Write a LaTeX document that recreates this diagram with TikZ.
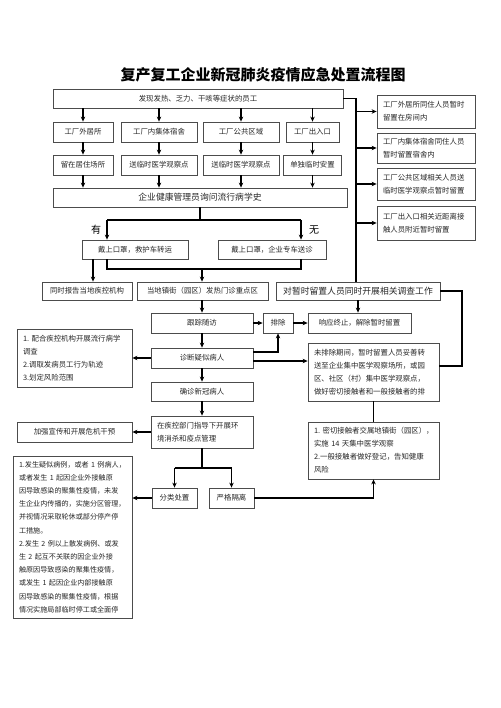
\documentclass[tikz,border=0pt]{standalone}
\usepackage{fontspec}
\setmainfont{Noto Sans CJK SC}
\usetikzlibrary{arrows.meta}

\begin{document}
\begin{tikzpicture}[x=1pt, y=-1pt, >={Stealth[length=5pt,width=4.5pt]},
    box/.style={draw=black!70, line width=0.8pt, text=black!85, inner sep=0pt, font=\fontsize{7.4}{13}\selectfont},
    tbox/.style={box, align=left, inner xsep=6pt},
    link/.style={line width=1.2pt}]

    \useasboundingbox (0,0) rectangle (500,708);

    \node [font=\fontsize{15}{15}\selectfont\bfseries] (t) at (263,75) {复产复工企业新冠肺炎疫情应急处置流程图};

    \node [box, minimum width=290, minimum height=19] (a) at (198,98.5) {发现发热、乏力、干咳等症状的员工};
    \node [box, minimum width=60, minimum height=20] (b1) at (83,132) {工厂外居所};
    \node [box, minimum width=76, minimum height=20] (b2) at (159,132) {工厂内集体宿舍};
    \node [box, minimum width=76, minimum height=20] (b3) at (241,132) {工厂公共区域};
    \node [box, minimum width=53, minimum height=20] (b4) at (312.5,132) {工厂出入口};
    \node [box, minimum width=60, minimum height=20] (c1) at (83,165) {留在居住场所};
    \node [box, minimum width=76, minimum height=20] (c2) at (159,165) {送临时医学观察点};
    \node [box, minimum width=76, minimum height=20] (c3) at (241,165) {送临时医学观察点};
    \node [box, minimum width=58, minimum height=20] (c4) at (312.5,165) {单独临时安置};
    \node [box, minimum width=294, minimum height=19, font=\fontsize{8.8}{10}\selectfont] (d) at (200,197.5) {企业健康管理员询问流行病学史};

    \node [tbox, text width=86, minimum height=33] (r1) at (426,111.5) {工厂外居所同住人员暂时\\留置在房间内};
    \node [tbox, text width=86, minimum height=30] (r2) at (426,148) {工厂内集体宿舍同住人员\\暂时留置宿舍内};
    \node [tbox, text width=86, minimum height=32] (r3) at (426,184) {工厂公共区域相关人员送\\临时医学观察点暂时留置};
    \node [tbox, text width=86, minimum height=34] (r4) at (426,223) {工厂出入口相关近距离接\\触人员附近暂时留置};

    \node [font=\fontsize{10}{10}\selectfont] (you) at (96,230) {有};
    \node [font=\fontsize{10}{10}\selectfont] (wu) at (314,230) {无};

    \node [box, minimum width=106, minimum height=19] (e1) at (135,249.5) {戴上口罩，救护车转运};
    \node [box, minimum width=108, minimum height=19] (e2) at (272,249.5) {戴上口罩，企业专车送诊};
    \node [box, minimum width=90, minimum height=18] (f1) at (87,291) {同时报告当地疾控机构};
    \node [box, minimum width=131, minimum height=18] (f2) at (202.5,291) {当地镇街（园区）发热门诊重点区};
    \node [box, minimum width=164, minimum height=18, font=\fontsize{8.8}{10}\selectfont] (f3) at (358,291) {对暂时留置人员同时开展相关调查工作};

    \node [box, minimum width=102, minimum height=20] (g1) at (202,323) {跟踪随访};
    \node [box, minimum width=30, minimum height=20] (g2) at (278,323) {排除};
    \node [box, minimum width=103, minimum height=20] (g3) at (359.5,323) {响应终止，解除暂时留置};

    \node [tbox, text width=103, minimum height=58] (h1) at (74.5,358) {1.~配合疾控机构开展流行病学\\调查\\2.调取发病员工行为轨迹\\3.划定风险范围};
    \node [box, minimum width=102, minimum height=20] (h2) at (202,358) {诊断疑似病人};
    \node [tbox, text width=119, minimum height=58] (h3) at (373.5,372) {未排除期间，暂时留置人员妥善转\\送至企业集中医学观察场所，或园\\区、社区（村）集中医学观察点，\\做好密切接触者和一般接触者的排};

    \node [box, minimum width=102, minimum height=19] (i) at (202,391.5) {确诊新冠病人};
    \node [box, minimum width=115, minimum height=20] (j1) at (74.5,432) {加强宣传和开展危机干预};
    \node [tbox, text width=90, minimum height=32] (j2) at (202,432) {在疾控部门指导下开展环\\境消杀和疫点管理};
    \node [tbox, text width=119, minimum height=57] (m) at (373.5,450.5) {1.~密切接触者交属地镇街（园区），\\实施~14~天集中医学观察\\2.一般接触者做好登记，告知健康\\风险};

    \node [tbox, text width=107, minimum height=162, font=\fontsize{7.1}{13.2}\selectfont] (k1) at (72.5,537) {1.发生疑似病例，或者~1~例病人，\\或者发生~1~起因企业外接触原\\因导致感染的聚集性疫情，未发\\生企业内传播的，实施分区管理，\\并视情况采取轮休或部分停产停\\工措施。\\2.发生~2~例以上散发病例、或发\\生~2~起互不关联的因企业外接\\触原因导致感染的聚集性疫情，\\或发生~1~起因企业内部接触原\\因导致感染的聚集性疫情，根据\\情况实施局部临时停工或全面停};
    \node [box, minimum width=45, minimum height=20] (k2) at (174.5,498) {分类处置};
    \node [box, minimum width=45, minimum height=20] (k3) at (231.5,498) {严格隔离};

    \coordinate (s) at (356,98.5);
    \coordinate (y1) at (107,220);
    \coordinate (y2) at (301,220);
    \coordinate (z1) at (107,269);
    \coordinate (z2) at (301,269);
    \coordinate (z0) at (202,269);
    \coordinate (q) at (462,366);
    \coordinate (u1) at (174.5,468);
    \coordinate (u2) at (231.5,468);

    \draw [link,->] (a.south -| b1) -- (b1);
    \draw [link,->] (a.south -| b2) -- (b2);
    \draw [link,->] (a.south -| b3) -- (b3);
    \draw [link,->] (a.south -| b4) -- (b4);
    \draw [link,->] (b1) -- (c1);
    \draw [link,->] (b2) -- (c2);
    \draw [link,->] (b3) -- (c3);
    \draw [link,->] (b4) -- (c4);
    \draw [link,->] (c1) -- (c1 |- d.north);
    \draw [link,->] (c2) -- (c2 |- d.north);
    \draw [link,->] (c3) -- (c3 |- d.north);
    \draw [link,->] (c4) -- (c4 |- d.north);

    \draw [link] (a.east) -- (s) -- (s |- f3.north);
    \draw [link,->] (s |- r1) -- (r1);
    \draw [link,->] (s |- r2) -- (r2);
    \draw [link,->] (s |- r3) -- (r3);
    \draw [link,->] (s |- r4) -- (r4);

    \draw [link] (d.south) -- (d.south |- y1);
    \draw [link] (y1) -- (y2);
    \draw [link,->] (y1) -- (y1 |- e1.north);
    \draw [link,->] (y2) -- (y2 |- e2.north);

    \draw [link,->] ([xshift=-42pt]e1.south) -- ([xshift=6pt]f1.north);
    \draw [link] (e1.south -| z1) -- (z1) -- (z2) -- (e2.south -| z2);
    \draw [link,->] (z0) -- (z0 |- f2.north);
    \draw [link,->] (f2.south -| g1) -- (g1);
    \draw [link,->] (f3.south -| 358,0) -- (g3.north -| 358,0);

    \draw [link,->] (g1) -- (g2);
    \draw [link,->] (g2) -- (g3);
    \draw [link,->] (h2) -- (h1);
    \draw [link,->] ([yshift=6pt]h2.east) -| (g2);
    \draw [link,->] ([yshift=-3pt]h2.east) -- ([yshift=-3pt]h2.east -| h3.west);
    \draw [link] (f3.east) -| (q) -- (q -| h3.east);
    \draw [link] (h3) -- (h3 |- m.north);

    \draw [link,->] (g1) -- (h2);
    \draw [link,->] (h2) -- (i);
    \draw [link,->] (i) -- (j2);
    \draw [link,->] (j2) -- (j1);

    \draw [link] (j2.south) -- (j2.south |- u1);
    \draw [link] (u1) -- (u2);
    \draw [link,->] (u1) -- (k2);
    \draw [link,->] (u2) -- (k3);
    \draw [link,->] (k2.west) -- (k2.west -| k1.east);
    \draw [link,->] (k3.east) -| (m);

\end{tikzpicture}
\end{document}
